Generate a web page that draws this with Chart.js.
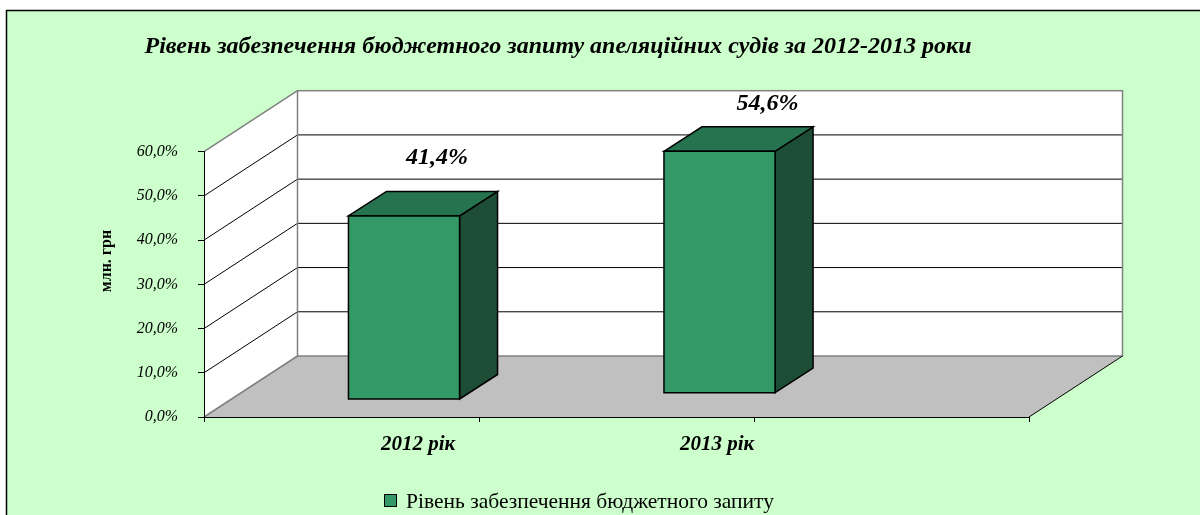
<!DOCTYPE html>
<html><head><meta charset="utf-8">
<script src="https://cdn.jsdelivr.net/npm/chart.js@4"></script>
<style>html,body{margin:0;padding:0;background:#fff;}canvas{display:block;}</style>
</head><body>
<canvas id="c" width="1200" height="515"></canvas>
<script>
// ---- data ----
const chartTitle = 'Рівень забезпечення бюджетного запиту апеляційних судів за 2012-2013 роки';
const yAxisTitle = 'млн. грн';
const categories = ['2012 рік', '2013 рік', ''];
const seriesName = 'Рівень забезпечення бюджетного запиту';
const seriesValues = [41.4, 54.6, null];
const valueLabels = ['41,4%', '54,6%', ''];
const yTickLabels = ['0,0%', '10,0%', '20,0%', '30,0%', '40,0%', '50,0%', '60,0%'];
const yMin = 0, yMax = 60, yStep = 10;

// ---- style / layout ----
const SERIF = '"Liberation Serif","Times New Roman",serif';
const BG = '#CCFFCC';
const FLOOR = '#C0C0C0';
const WALL_EDGE = '#808080';
const FRONT = '#339966', TOP = '#267350', SIDE = '#1D4D34';
const DEPTH = { dx: 93.5, dy: -61 };      // wall/floor depth projection
const BAR_DEPTH = { dx: 38, dy: -24.5 };  // bar box depth projection
const BAR_W_RATIO = 0.404;                // bar width / category width
// simple perspective approximation (offsets grow with distance from the axis start)
const PERSP = { shift: 42.25, spread: 0.1473, dz0: 14.85, dzk: 0.0229 };
const CAT_LABEL = { shift: 64.5, spread: 0.0873, dy: 28 };
const VAL_LABEL = { dx0: 25.5, dxk: 0.0545, dy0: -63.2, dyk: 0.0393 };

function poly(ctx, pts) {
  ctx.beginPath();
  ctx.moveTo(pts[0][0], pts[0][1]);
  for (let k = 1; k < pts.length; k++) ctx.lineTo(pts[k][0], pts[k][1]);
  ctx.closePath();
}

function barGeom(chart, i) {
  const xs = chart.scales.x, ys = chart.scales.y;
  const slotX = xs.getPixelForValue(i);
  const slotW = xs.getPixelForValue(1) - xs.getPixelForValue(0);
  const rel = slotX - xs.left;
  const cx = slotX + PERSP.shift + PERSP.spread * rel;
  const dz = PERSP.dz0 + PERSP.dzk * rel;
  const w = slotW * BAR_W_RATIO;
  const y0 = ys.getPixelForValue(0);
  const v = seriesValues[i] == null ? 0 : seriesValues[i];
  const h = y0 - ys.getPixelForValue(v);
  const base = y0 - dz;
  return { slotX, rel, cx, left: cx - w / 2, right: cx + w / 2, base, top: base - h };
}

const excel3d = {
  id: 'excel3d',
  beforeDraw(chart) {
    const ctx = chart.ctx, W = chart.width, H = chart.height;
    const xs = chart.scales.x, ys = chart.scales.y;
    ctx.save();
    ctx.fillStyle = '#fff'; ctx.fillRect(0, 0, W, H);
    ctx.fillStyle = BG; ctx.fillRect(6, 10, W - 6, H - 10);
    ctx.strokeStyle = '#000'; ctx.lineWidth = 1.5;
    ctx.beginPath(); ctx.moveTo(6.5, H); ctx.lineTo(6.5, 10.5); ctx.lineTo(W, 10.5); ctx.stroke();

    const L = xs.left, R = xs.right;
    const T = ys.getPixelForValue(yMax), B = ys.getPixelForValue(yMin);
    const dx = DEPTH.dx, dy = DEPTH.dy;
    // floor
    ctx.fillStyle = FLOOR;
    poly(ctx, [[L, B], [R, B], [R + dx, B + dy], [L + dx, B + dy]]); ctx.fill();
    // side wall
    ctx.fillStyle = '#fff';
    poly(ctx, [[L, T], [L, B], [L + dx, B + dy], [L + dx, T + dy]]); ctx.fill();
    // back wall
    ctx.fillRect(L + dx, T + dy, R - L, B - T);
    // gridlines
    ctx.strokeStyle = '#000'; ctx.lineWidth = 1;
    for (let v = yMin + yStep; v < yMax; v += yStep) {
      const y = ys.getPixelForValue(v);
      ctx.beginPath();
      ctx.moveTo(L, y); ctx.lineTo(L + dx, y + dy); ctx.lineTo(R + dx, y + dy);
      ctx.stroke();
    }
    // wall edges
    ctx.strokeStyle = WALL_EDGE; ctx.lineWidth = 1.5;
    ctx.strokeRect(L + dx, T + dy, R - L, B - T);
    ctx.beginPath();
    ctx.moveTo(L, T); ctx.lineTo(L + dx, T + dy);
    ctx.moveTo(L, B); ctx.lineTo(L + dx, B + dy);
    ctx.stroke();
    // floor right edge
    ctx.strokeStyle = '#000'; ctx.lineWidth = 1;
    ctx.beginPath(); ctx.moveTo(R, B); ctx.lineTo(R + dx, B + dy); ctx.stroke();
    ctx.restore();
  },
  afterDatasetsDraw(chart) {
    const ctx = chart.ctx;
    ctx.save();
    ctx.lineWidth = 1.5; ctx.strokeStyle = '#000'; ctx.lineJoin = 'miter';
    seriesValues.forEach((v, i) => {
      if (v === null || v === undefined) return;
      const g = barGeom(chart, i);
      const bx = BAR_DEPTH.dx, by = BAR_DEPTH.dy;
      // side
      ctx.fillStyle = SIDE;
      poly(ctx, [[g.right, g.top], [g.right + bx, g.top + by], [g.right + bx, g.base + by], [g.right, g.base]]);
      ctx.fill(); ctx.stroke();
      // top
      ctx.fillStyle = TOP;
      poly(ctx, [[g.left, g.top], [g.left + bx, g.top + by], [g.right + bx, g.top + by], [g.right, g.top]]);
      ctx.fill(); ctx.stroke();
      // front
      ctx.fillStyle = FRONT;
      poly(ctx, [[g.left, g.top], [g.right, g.top], [g.right, g.base], [g.left, g.base]]);
      ctx.fill(); ctx.stroke();
      // value label
      ctx.fillStyle = '#000';
      ctx.font = `italic bold 24px ${SERIF}`;
      ctx.textAlign = 'center'; ctx.textBaseline = 'middle';
      ctx.fillText(valueLabels[i],
        g.cx + VAL_LABEL.dx0 + VAL_LABEL.dxk * g.rel,
        g.top + VAL_LABEL.dy0 + VAL_LABEL.dyk * g.rel);
    });
    ctx.restore();
  },
  afterDraw(chart) {
    const ctx = chart.ctx;
    const xs = chart.scales.x, ys = chart.scales.y;
    ctx.save();
    ctx.fillStyle = '#000';
    ctx.textAlign = 'center'; ctx.textBaseline = 'middle';
    // title
    ctx.font = `italic bold 24px ${SERIF}`;
    ctx.fillText(chartTitle, 558, 47);
    // category labels
    ctx.font = `italic bold 21px ${SERIF}`;
    categories.forEach((c, i) => {
      if (!c) return;
      const slotX = xs.getPixelForValue(i);
      const rel = slotX - xs.left;
      ctx.fillText(c, slotX + CAT_LABEL.shift + CAT_LABEL.spread * rel, ys.getPixelForValue(0) + CAT_LABEL.dy);
    });
    // y axis title
    ctx.save();
    ctx.translate(107, 261);
    ctx.rotate(-Math.PI / 2);
    ctx.font = `bold 16px ${SERIF}`;
    ctx.fillText(yAxisTitle, 0, 0);
    ctx.restore();
    // legend
    ctx.fillStyle = FRONT; ctx.strokeStyle = '#000'; ctx.lineWidth = 1;
    ctx.fillRect(384.5, 494.5, 12, 12); ctx.strokeRect(384.5, 494.5, 12, 12);
    ctx.fillStyle = '#000'; ctx.textAlign = 'left';
    ctx.font = `21.5px ${SERIF}`;
    ctx.fillText(seriesName, 406, 502);
    ctx.restore();
  }
};

new Chart(document.getElementById('c'), {
  type: 'bar',
  data: {
    labels: categories,
    datasets: [{ label: seriesName, data: seriesValues, backgroundColor: 'rgba(0,0,0,0)', borderWidth: 0 }]
  },
  options: {
    responsive: false,
    devicePixelRatio: 1,
    animation: false,
    layout: { padding: { left: 0, right: 171, top: 151.7, bottom: 0 } },
    plugins: { legend: { display: false }, title: { display: false }, tooltip: { enabled: false } },
    scales: {
      x: {
        offset: true,
        grid: { display: true, offset: true, drawOnChartArea: false, drawTicks: true, tickLength: 5, color: '#000', lineWidth: 1 },
        border: { display: true, color: '#000', width: 1 },
        ticks: { display: false },
        afterFit: s => { s.height = 98; }
      },
      y: {
        min: yMin, max: yMax,
        grid: { display: true, drawOnChartArea: false, drawTicks: true, tickLength: 6, color: '#000', lineWidth: 1 },
        border: { display: true, color: '#000', width: 1 },
        ticks: {
          stepSize: yStep, padding: 20, color: '#000',
          font: { family: SERIF, size: 16, style: 'italic' },
          callback: (v, i) => yTickLabels[i]
        },
        afterFit: s => { s.width = 204; }
      }
    }
  },
  plugins: [excel3d]
});
</script>
</body></html>
